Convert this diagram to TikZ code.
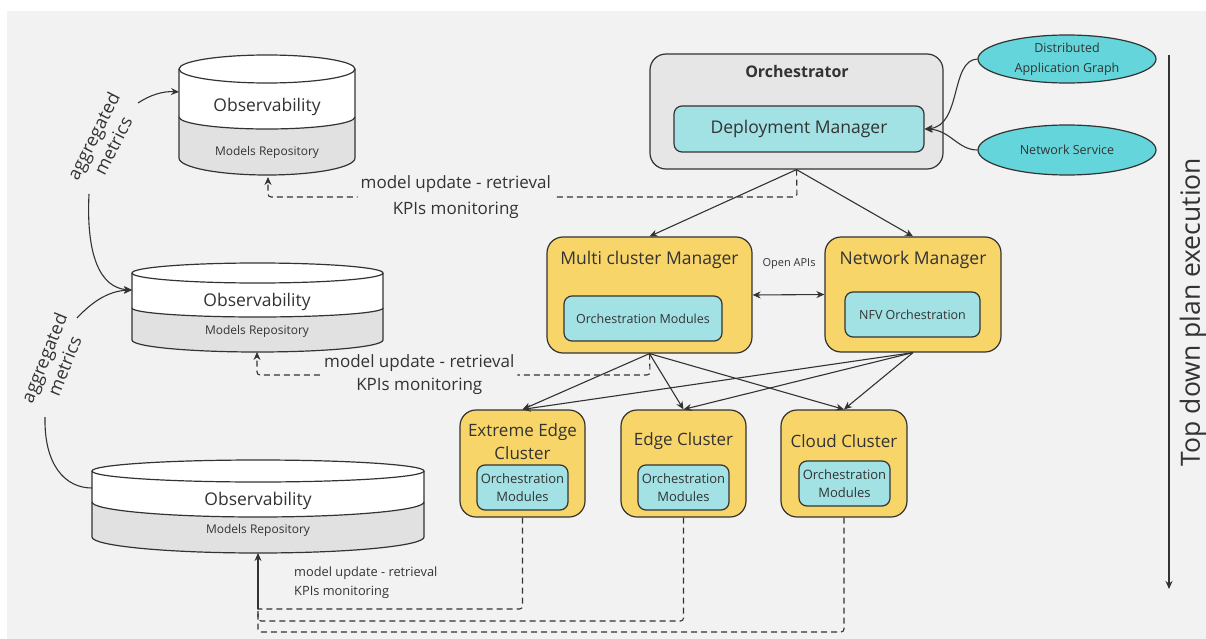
\documentclass[tikz,border=0pt]{standalone}
\usepackage{fontspec}
\setmainfont{Open Sans}
\usetikzlibrary{arrows.meta,calc,shapes.geometric}
\definecolor{bgc}{HTML}{F2F2F2}
\definecolor{yel}{HTML}{F8D568}
\definecolor{tealin}{HTML}{A2E1E4}
\definecolor{tealel}{HTML}{63D5DB}
\definecolor{orchf}{HTML}{E6E6E6}
\definecolor{cylg}{HTML}{E1E1E1}
\definecolor{ink}{HTML}{333333}
\newcommand\fs[1]{\fontsize{#1}{#1}\selectfont}
\newcommand\mycyl[8]{%
  \fill[white] ({#1-#2},#3) arc[start angle=180,end angle=0,x radius=#2pt,y radius=#4pt] -- ({#1+#2},#5) arc[start angle=0,end angle=-180,x radius=#2pt,y radius=#6pt] -- cycle;
  \fill[cylg] ({#1-#2},#5) arc[start angle=180,end angle=360,x radius=#2pt,y radius=#6pt] -- ({#1+#2},#7) arc[start angle=0,end angle=-180,x radius=#2pt,y radius=#8pt] -- cycle;
  \draw[boxline] (#1,#3) ellipse[x radius=#2pt,y radius=#4pt];
  \draw[boxline] ({#1-#2},#3) -- ({#1-#2},#7) arc[start angle=180,end angle=360,x radius=#2pt,y radius=#8pt] -- ({#1+#2},#3);
  \draw[boxline] ({#1-#2},#5) arc[start angle=180,end angle=360,x radius=#2pt,y radius=#6pt];
}
\begin{document}
\begin{tikzpicture}[x=1pt,y=-1pt,
  boxline/.style={draw=ink,line width=1.2pt},
  conn/.style={draw=ink,line width=1.1pt,-{Stealth[length=8pt,width=7pt]}},
  dconn/.style={draw=ink,line width=1.1pt,dash pattern=on 6pt off 4pt,rounded corners=3pt},
  orchbox/.style={boxline,fill=orchf,rounded corners=16pt,inner sep=0},
  yelbox/.style={boxline,fill=yel,rounded corners=16pt,inner sep=0},
  inbox/.style={boxline,fill=tealin,rounded corners=8pt,inner sep=0,text=ink,align=center},
  ell/.style={ellipse,boxline,fill=tealel,inner sep=0,text=ink,align=center,font=\fs{12.5}},
  txt/.style={inner sep=0,text=ink,align=center},
  lbl/.style={fill=bgc,inner sep=3pt,text=ink,align=center}
]
\useasboundingbox (0,0) rectangle (1206,639);
\fill[white] (0,0) rectangle (1206,639);
\fill[bgc] (7,11) rectangle (1206,639);

% cylinders
\mycyl{267}{88}{69}{14}{117}{12}{158}{17}
\node[txt,font=\fs{17.5}] (obs1) at (267,107) {Observability};
\node[txt,font=\fs{12}] (mr1) at (267,152) {Models Repository};
\coordinate (cyl1bot) at (267,175);
\coordinate (cyl1west) at (179,92);

\mycyl{257.5}{125.5}{273}{10}{308}{9}{340}{12}
\node[txt,font=\fs{17.5}] (obs2) at (257,302) {Observability};
\node[txt,font=\fs{12}] (mr2) at (257,331) {Models Repository};
\coordinate (cyl2bot) at (257,352);
\coordinate (cyl2west) at (132,290);

\mycyl{258}{166}{471}{11}{502}{15}{537}{16}
\node[txt,font=\fs{17.5}] (obs3) at (258,501) {Observability};
\node[txt,font=\fs{12}] (mr3) at (258,530) {Models Repository};
\coordinate (cyl3bot) at (258,553);
\coordinate (cyl3west) at (92,488);

% aggregated metrics labels
\node[txt,font=\fs{18},rotate=63,align=center] (agg1) at (103,141) {aggregated\\[4pt]metrics};
\node[txt,font=\fs{18},rotate=68,align=center] (agg2) at (54,362) {aggregated\\[4pt]metrics};
\coordinate (a1s) at (138,103);
\coordinate (a1b) at (89,194);
\coordinate (a2s) at (77,318);
\coordinate (a2b) at (45,417);
\draw[conn] (a1s) .. controls (150,95) and (163,91) .. (cyl1west);
\draw[conn] (a1b) .. controls (86,255) and (100,288) .. (cyl2west);
\draw[conn] (a2s) .. controls (92,302) and (108,291) .. (cyl2west);
\draw[draw=ink,line width=1.1pt] (a2b) .. controls (44,465) and (65,488) .. (cyl3west);

% orchestrator
\node[orchbox,minimum width=293pt,minimum height=115pt] (orch) at (796.5,111.5) {};
\node[txt,font=\bfseries\fs{16}] (orchT) at (797,72) {Orchestrator};
\node[inbox,minimum width=250pt,minimum height=46pt,font=\fs{17.5}] (dm) at (799,129) {Deployment Manager};

\node[ell,minimum width=178pt,minimum height=48pt] (dag) at (1067,59) {Distributed\\[7.5pt]Application Graph};
\node[ell,minimum width=178pt,minimum height=50pt] (ns) at (1067,150) {Network Service};
\draw[conn] (dag.west) .. controls (950,60) and (962,126) .. (dm.east);
\draw[conn] (ns.west) .. controls (958,150) and (950,130) .. (dm.east);

% managers
\node[yelbox,minimum width=205pt,minimum height=116pt] (mcm) at (649.5,295) {};
\node[txt,font=\fs{17.5}] (mcmT) at (649.5,260) {Multi cluster Manager};
\node[inbox,minimum width=158pt,minimum height=45pt,font=\fs{12.5}] (mcmI) at (643,318.5) {Orchestration Modules};

\node[yelbox,minimum width=176pt,minimum height=115pt] (nm) at (913,294.5) {};
\node[txt,font=\fs{17.5}] (nmT) at (913,260) {Network Manager};
\node[inbox,minimum width=135pt,minimum height=45pt,font=\fs{12.5}] (nmI) at (912.5,314.5) {NFV Orchestration};

\node[txt,font=\fs{11}] (oapi) at (789,264) {Open APIs};
\draw[draw=ink,line width=1.1pt,{Stealth[length=8pt,width=7pt]}-{Stealth[length=8pt,width=7pt]}] (mcm.east) -- (nm.west);

% clusters
\node[yelbox,minimum width=125pt,minimum height=107pt] (eec) at (522.5,463.5) {};
\node[txt,font=\fs{17},align=center] (eecT) at (522.5,441.5) {Extreme Edge\\[6pt]Cluster};
\node[inbox,minimum width=91pt,minimum height=45pt,font=\fs{13}] (eecI) at (522.5,487.5) {Orchestration\\[5pt]Modules};

\node[yelbox,minimum width=125pt,minimum height=107pt] (ec) at (683.5,463.5) {};
\node[txt,font=\fs{17}] (ecT) at (683.5,441) {Edge Cluster};
\node[inbox,minimum width=91pt,minimum height=45pt,font=\fs{13}] (ecI) at (683.5,487.5) {Orchestration\\[5pt]Modules};

\node[yelbox,minimum width=126pt,minimum height=107pt] (cc) at (844,463.5) {};
\node[txt,font=\fs{17}] (ccT) at (844,441) {Cloud Cluster};
\node[inbox,minimum width=91pt,minimum height=45pt,font=\fs{13}] (ccI) at (844.5,483.5) {Orchestration\\[5pt]Modules};

% solid arrows
\draw[conn] (orch.south) -- (mcm.north);
\draw[conn] (orch.south) -- (nm.north);
\foreach \t in {eec,ec,cc}{
  \draw[conn] (mcm.south) -- (\t.north);
  \draw[conn] (nm.south) -- (\t.north);
}

% dashed feedback
\draw[dconn,-{Stealth[length=8pt,width=7pt]}] (orch.south) -- (797,197) -- node[lbl,pos=0.645,font=\fs{17}] (lab1) {model update - retrieval\\[9pt]KPIs monitoring} (268,197) -- (268,177);
\draw[dconn,-{Stealth[length=8pt,width=7pt]}] (mcm.south) -- (650,375) -- node[lbl,pos=0.587,font=\fs{17}] (lab2) {model update - retrieval\\[6pt]KPIs monitoring} (257,375) -- (cyl2bot);

\draw[dconn] (eec.south) -- (522.5,609) -- (258,609);
\draw[dconn] (ec.south) -- (683.5,621) -- (258,621) -- (258,609);
\draw[dconn] (cc.south) -- (844,632) -- (258,632) -- (258,609);
\coordinate (fbj) at (258,609);
\draw[conn] (fbj) -- (cyl3bot);
\node[txt,font=\fs{12.8},anchor=west,align=left] (lab3) at (294,583) {model update - retrieval\\[6pt]KPIs monitoring};

% top-down arrow
\coordinate (tdA) at (1169,55);
\coordinate (tdB) at (1169,589);
\draw[conn] (tdA) -- (tdB);
\node[txt,font=\fs{26.5},rotate=90] (tdT) at (1193,312) {Top down plan execution};
\end{tikzpicture}
\end{document}
